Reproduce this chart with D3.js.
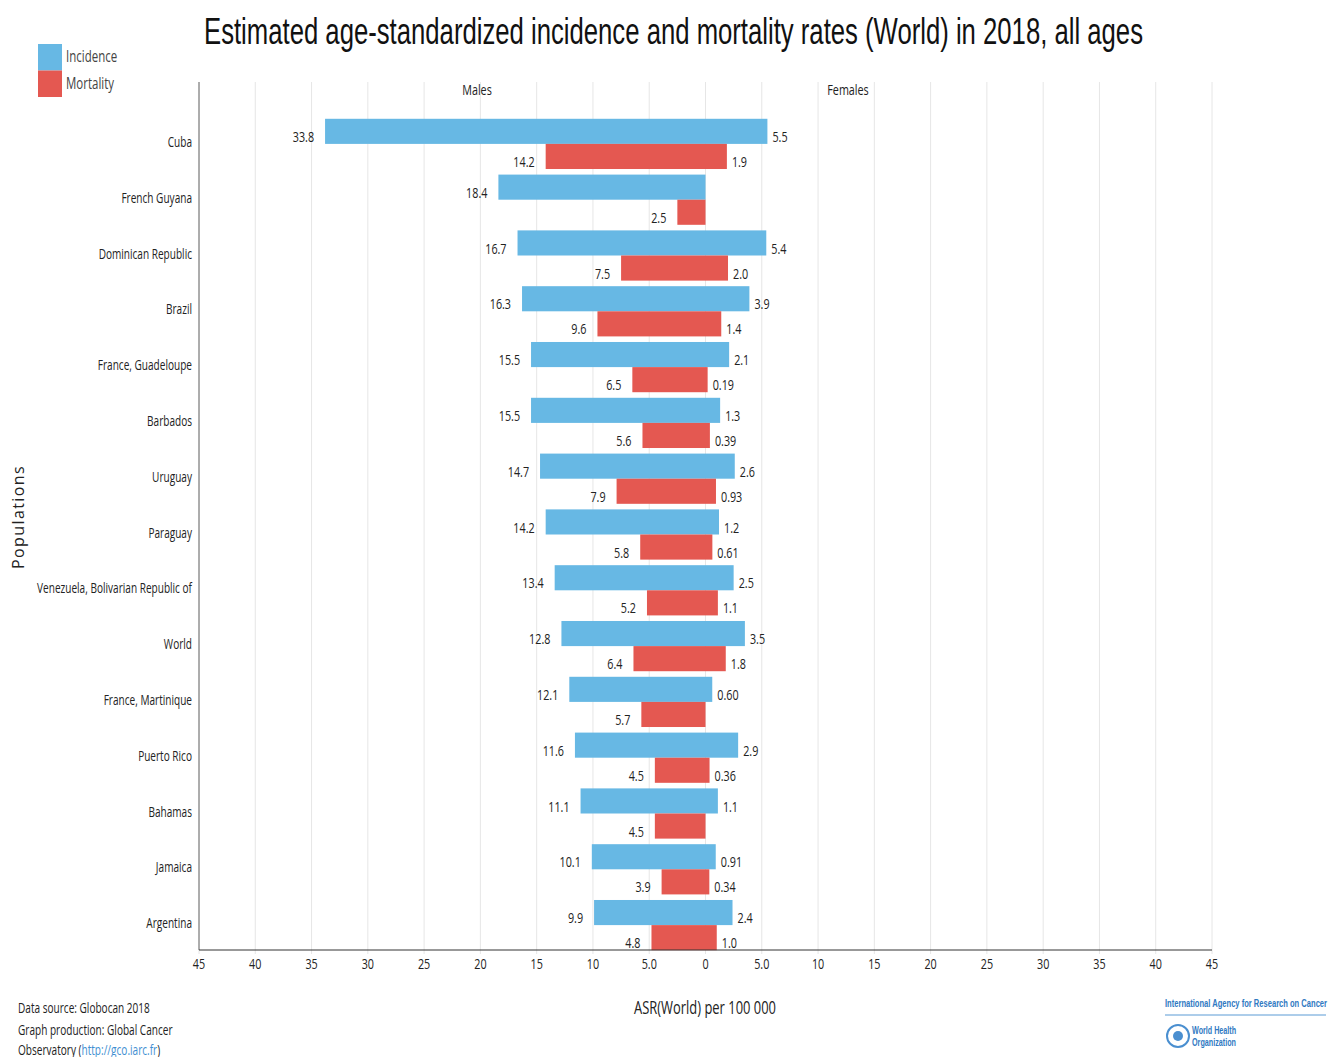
<!DOCTYPE html>
<html><head>
<meta charset="utf-8">
<script src="https://d3js.org/d3.v7.min.js"></script>
<style>
  body { margin: 0; background: #fff; }
  svg text { font-family: "Open Sans", "Liberation Sans", sans-serif; fill: #222; }
</style>
</head>
<body>
<script>
// populations, top to bottom
var countries = ["Cuba", "French Guyana", "Dominican Republic", "Brazil", "France, Guadeloupe",
  "Barbados", "Uruguay", "Paraguay", "Venezuela, Bolivarian Republic of", "World",
  "France, Martinique", "Puerto Rico", "Bahamas", "Jamaica", "Argentina"];

// ASR (World) per 100 000
var incidenceMales   = [33.8, 18.4, 16.7, 16.3, 15.5, 15.5, 14.7, 14.2, 13.4, 12.8, 12.1, 11.6, 11.1, 10.1, 9.9];
var incidenceFemales = [5.5, null, 5.4, 3.9, 2.1, 1.3, 2.6, 1.2, 2.5, 3.5, 0.60, 2.9, 1.1, 0.91, 2.4];
var mortalityMales   = [14.2, 2.5, 7.5, 9.6, 6.5, 5.6, 7.9, 5.8, 5.2, 6.4, 5.7, 4.5, 4.5, 3.9, 4.8];
var mortalityFemales = [1.9, null, 2.0, 1.4, 0.19, 0.39, 0.93, 0.61, 1.1, 1.8, null, 0.36, null, 0.34, 1.0];

var tickValues = [-45, -40, -35, -30, -25, -20, -15, -10, -5, 0, 5, 10, 15, 20, 25, 30, 35, 40, 45];

var seriesNames = ["Incidence", "Mortality"];
var colors = { Incidence: "#67b8e4", Mortality: "#e45851" };

var W = 1328, H = 1057;
var plotLeft = 199, plotRight = 1212, plotTop = 82, plotBottom = 950;

function fmt(v) {
    return v >= 10 ? d3.format(".1f")(v) : d3.format(".2r")(v);
}

var svg = d3.select("body").append("svg")
    .attr("width", W).attr("height", H);

// the original uses a condensed face; squeeze Open Sans to the same width
var probe = svg.append("text").style("font-size", "14px").text("Venezuela, Bolivarian Republic of");
var sx = 155 / probe.node().getComputedTextLength();
probe.remove();

function ntext(parent, x0, y0, str, size, anchor) {
    return parent.append("text")
        .attr("transform", "translate(" + x0 + "," + y0 + ") scale(" + sx + ",1)")
        .attr("text-anchor", anchor || "start")
        .style("font-size", size + "px")
        .text(str);
}

var x = d3.scaleLinear().domain([-45, 45]).range([plotLeft, plotRight]);
var y = d3.scaleBand().domain(countries).range([116, 953]);
var barH = y.bandwidth() * 0.45;

// title
svg.append("text")
    .attr("x", 204).attr("y", 44)
    .attr("textLength", 939).attr("lengthAdjust", "spacingAndGlyphs")
    .style("font-family", "'Liberation Sans', Arial, sans-serif")
    .style("font-size", "36px").style("fill", "#111")
    .text("Estimated age-standardized incidence and mortality rates (World) in 2018, all ages");

// legend
seriesNames.forEach(function(s, i) {
    svg.append("rect").attr("x", 38).attr("y", 44 + i * 26.5)
        .attr("width", 24).attr("height", 26.5).attr("fill", colors[s]);
    ntext(svg, 66, 62 + i * 26.5, s, 16).style("fill", "#444");
});

// grid lines
svg.append("g").selectAll("line").data(tickValues).enter().append("line")
    .attr("x1", function(d) { return x(d); }).attr("x2", function(d) { return x(d); })
    .attr("y1", plotTop).attr("y2", plotBottom + 4)
    .attr("stroke", "#e6e6e6").attr("stroke-width", 1);

// sex headers
ntext(svg, 477, 95, "Males", 15, "middle");
ntext(svg, 848, 95, "Females", 15, "middle");

// rows
var rows = countries.map(function(c, i) {
    return {
        country: c,
        bars: [
            { s: "Incidence", m: incidenceMales[i], f: incidenceFemales[i] },
            { s: "Mortality", m: mortalityMales[i], f: mortalityFemales[i] }
        ]
    };
});

svg.append("g").selectAll("g").data(rows).enter().append("g").each(function(r) {
    var sel = d3.select(this);
    var yc = y(r.country) + y.bandwidth() / 2;
    r.bars.forEach(function(b, j) {
        var y0 = yc - barH + j * barH;
        var l = b.m || 0, rt = b.f || 0;
        sel.append("rect")
            .attr("x", x(-l)).attr("y", y0)
            .attr("width", x(rt) - x(-l)).attr("height", barH)
            .attr("fill", colors[b.s]);
        if (b.m != null) ntext(sel, x(-l) - 11, y0 + barH - 2, fmt(b.m), 15, "end");
        if (b.f != null) ntext(sel, x(rt) + 5, y0 + barH - 2, fmt(b.f), 15);
    });
    ntext(sel, 192, yc + 3, r.country, 14, "end");
});

// axes lines
svg.append("line").attr("x1", plotLeft).attr("x2", plotLeft).attr("y1", plotTop).attr("y2", plotBottom)
    .attr("stroke", "#666");
svg.append("line").attr("x1", plotLeft).attr("x2", plotRight).attr("y1", plotBottom).attr("y2", plotBottom)
    .attr("stroke", "#333");

// tick labels
tickValues.forEach(function(d) {
    var a = Math.abs(d);
    ntext(svg, x(d), 969, a === 5 ? "5.0" : String(a), 15, "middle");
});

// axis titles
ntext(svg, 705, 1014, "ASR(World) per 100 000", 18, "middle");

svg.append("text")
    .attr("transform", "translate(24,517) rotate(-90)")
    .attr("text-anchor", "middle")
    .style("font-family", "'Open Sans', 'DejaVu Sans', sans-serif")
    .style("font-size", "16px").style("letter-spacing", "1.4px")
    .text("Populations");

// source
ntext(svg, 18, 1013, "Data source: Globocan 2018", 14);
ntext(svg, 18, 1035, "Graph production: Global Cancer", 14);
var obs = ntext(svg, 18, 1055, "", 14);
obs.append("tspan").text("Observatory (");
obs.append("tspan").style("fill", "#3f8fd2").text("http://gco.iarc.fr");
obs.append("tspan").text(")");

// IARC / WHO mark
var logo = svg.append("g");
logo.append("text").attr("x", 1165).attr("y", 1007)
    .attr("textLength", 162).attr("lengthAdjust", "spacingAndGlyphs")
    .style("font-family", "'Liberation Sans', Arial, sans-serif")
    .style("font-size", "11px").style("font-weight", "bold").style("fill", "#2f79c2")
    .text("International Agency for Research on Cancer");
logo.append("line").attr("x1", 1165).attr("x2", 1326).attr("y1", 1015).attr("y2", 1015)
    .attr("stroke", "#5b9bd5").attr("stroke-width", 1);
logo.append("circle").attr("cx", 1178).attr("cy", 1036).attr("r", 11)
    .attr("fill", "none").attr("stroke", "#4a8fd0").attr("stroke-width", 2);
logo.append("circle").attr("cx", 1178).attr("cy", 1036).attr("r", 5)
    .attr("fill", "#4a8fd0");
logo.append("text").attr("x", 1192).attr("y", 1034)
    .attr("textLength", 44).attr("lengthAdjust", "spacingAndGlyphs")
    .style("font-family", "'Liberation Sans', Arial, sans-serif")
    .style("font-size", "10px").style("font-weight", "bold").style("fill", "#2f79c2").text("World Health");
logo.append("text").attr("x", 1192).attr("y", 1046)
    .attr("textLength", 44).attr("lengthAdjust", "spacingAndGlyphs")
    .style("font-family", "'Liberation Sans', Arial, sans-serif")
    .style("font-size", "10px").style("font-weight", "bold").style("fill", "#2f79c2").text("Organization");
</script>
</body></html>
